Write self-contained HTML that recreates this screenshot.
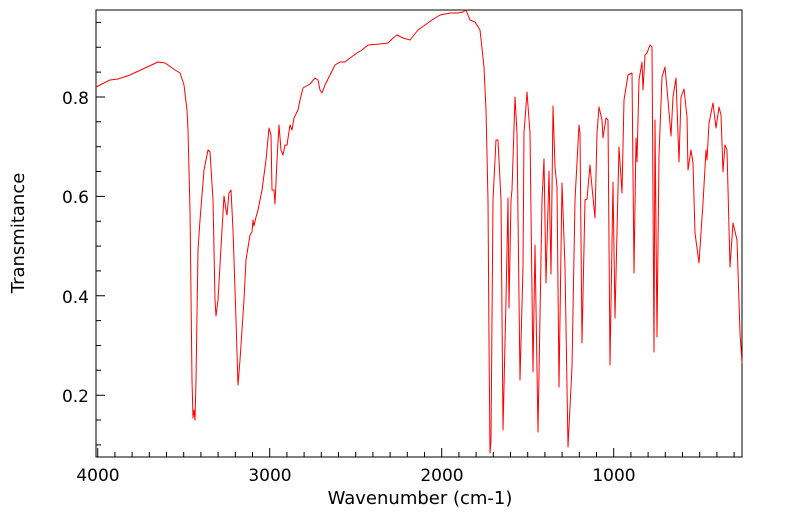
<!DOCTYPE html>
<html><head><style>body{margin:0;background:#fff}svg{display:block}text{font-family:"DejaVu Sans","Liberation Sans",sans-serif;fill:#000}</style></head><body>
<svg width="799" height="516" viewBox="0 0 799 516">
<rect x="96" y="10" width="646" height="447" fill="none" stroke="#000" stroke-width="1"/>
<g stroke="#000" stroke-width="1">
<path d="M97.7 457v-9M269.7 457v-9M441.7 457v-9M613.7 457v-9"/>
<path d="M114.9 457v-5M132.1 457v-5M149.3 457v-5M166.5 457v-5M183.7 457v-5M200.9 457v-5M218.1 457v-5M235.3 457v-5M252.5 457v-5M286.9 457v-5M304.1 457v-5M321.3 457v-5M338.5 457v-5M355.7 457v-5M372.9 457v-5M390.1 457v-5M407.3 457v-5M424.5 457v-5M458.9 457v-5M476.1 457v-5M493.3 457v-5M510.5 457v-5M527.7 457v-5M544.9 457v-5M562.1 457v-5M579.3 457v-5M596.5 457v-5M630.9 457v-5M648.1 457v-5M665.3 457v-5M682.5 457v-5M699.7 457v-5M716.9 457v-5M734.1 457v-5"/>
<path d="M96 97h9M96 196.4h9M96 295.8h9M96 395.2h9"/>
<path d="M96 22.4h5M96 47.3h5M96 72.1h5M96 121.8h5M96 146.7h5M96 171.5h5M96 221.2h5M96 246.1h5M96 270.9h5M96 320.6h5M96 345.5h5M96 370.3h5M96 420h5M96 444.9h5"/>
</g>
<g font-size="17">
<text x="98" y="481" text-anchor="middle">4000</text>
<text x="270" y="481" text-anchor="middle">3000</text>
<text x="442" y="481" text-anchor="middle">2000</text>
<text x="614" y="481" text-anchor="middle">1000</text>
<text x="89" y="104" text-anchor="end">0.8</text>
<text x="89" y="203" text-anchor="end">0.6</text>
<text x="89" y="303" text-anchor="end">0.4</text>
<text x="89" y="402" text-anchor="end">0.2</text>
<text x="420" y="504" text-anchor="middle" font-size="18">Wavenumber (cm-1)</text>
<text transform="translate(24,233) rotate(-90)" text-anchor="middle" font-size="18">Transmitance</text>
</g>
<polyline fill="none" stroke="#ff0000" stroke-width="1" stroke-linejoin="round" points="96,87 110,80 118,79 130,75 145,68 158,62 165,63 175,70 180,73 184,85 187,110 188,130 190,210 192,380 193,418 194,410 195,420 196,380 198,250 200,220 204,170 208,150 210,152 213,200 215,300 216,316 218,300 222,230 224,196 226,210 227,215 229,193 231,190 233,230 236,320 238,385 240,360 244,300 246,260 250,235 252,232 253,220 254,226 256,217 258,210 262,190 266,160 269,128 271,135 272,190 274,190 275,204 277,160 279,125 281,150 283,155 285,145 287,145 290,125 292,130 294,118 298,110 300,100 303,88 310,84 315,78 318,80 320,90 322,93 325,85 330,75 335,65 340,62 345,62 350,58 357,53 362,50 368,45 380,44 388,43 393,38 397,35 403,38 410,40 418,30 425,25 432,20 440,15 450,13 458,13 463,12 466,10 470,20 475,22 480,30 484,67 486,110 488,200 489,340 490,453 491,440 493,200 496,140 498,140 501,200 503,430 506,300 508,198 509,308 511,200 512,190 515,97 517,133 520,380 523,267 524,133 527,92 530,133 533,372 535,245 538,432 542,200 544,159 546,283 549,171 551,274 553,106 555,167 557,187 559,387 562,183 565,267 568,447 572,367 575,200 579,125 580,133 582,343 585,200 587,199 590,165 592,187 595,218 597,133 599,107 602,120 603,138 606,118 608,120 610,365 613,182 615,318 619,147 622,193 624,100 628,75 632,73 634,273 636,138 637,162 639,80 642,62 643,90 645,55 647,53 650,45 652,47 654,352 655,120 657,337 659,155 662,77 665,67 668,100 671,136 673,97 676,78 679,162 681,97 684,89 687,117 688,170 691,150 693,163 695,233 699,263 703,203 706,150 707,160 709,123 713,103 716,128 719,107 721,115 723,172 725,145 727,150 730,267 733,223 737,240 740,333 742,363"/>
</svg>
</body></html>
